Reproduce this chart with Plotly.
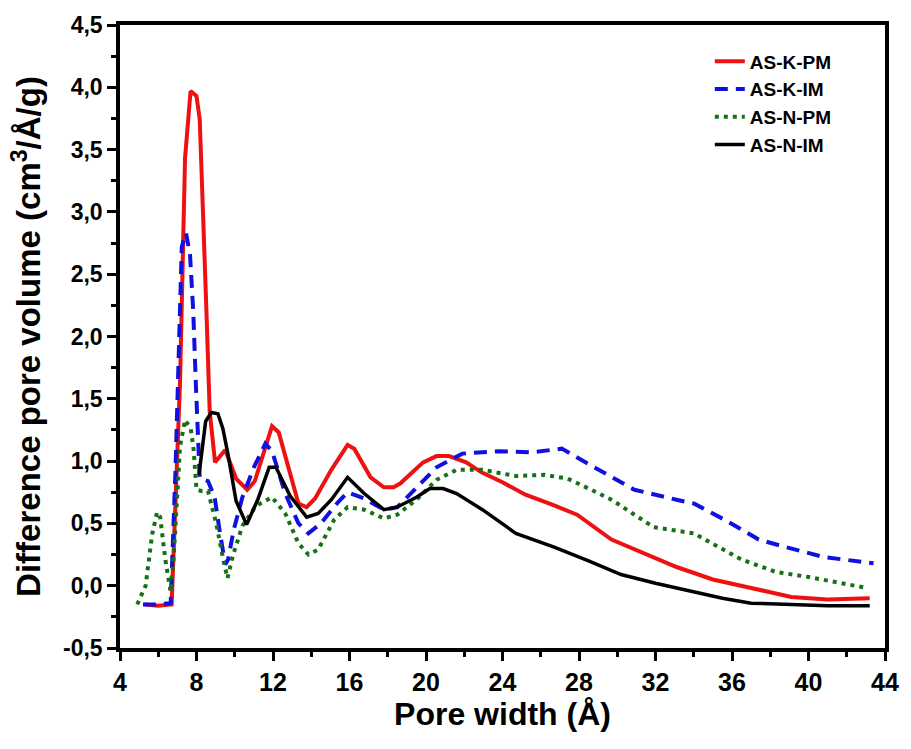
import plotly.graph_objects as go

# ---- data ----
k_pm_x = [5.3, 6.0, 6.7, 7.14, 7.4, 7.69, 8.0, 8.17, 8.52, 8.69, 8.97, 9.5, 10.07, 10.65, 11.05,
          11.95, 12.3, 13.33, 13.76, 14.2, 15.05, 15.9, 16.25, 17.1, 17.8, 18.3, 18.65, 19.85,
          20.55, 21.2, 22.1, 22.9, 24.0, 25.2, 26.6, 27.9, 29.7, 31.5, 33.1, 35.0, 37.4, 39.1,
          41.0, 43.2]
k_pm_y = [-0.15, -0.16, -0.15, 1.64, 3.43, 3.97, 3.93, 3.74, 2.2, 1.4, 0.99, 1.09, 0.86, 0.77, 0.84,
          1.28, 1.23, 0.66, 0.63, 0.70, 0.93, 1.13, 1.10, 0.87, 0.79, 0.79, 0.82, 0.99,
          1.04, 1.04, 0.99, 0.91, 0.83, 0.73, 0.65, 0.57, 0.37, 0.25, 0.15, 0.05, -0.03, -0.09,
          -0.11, -0.10]

k_im_x = [5.2, 6.0, 6.65, 6.9, 7.23, 7.45, 7.66, 7.83, 7.97, 8.09, 8.17, 8.6, 8.95, 9.2, 9.5, 9.65,
          9.95, 10.4, 11.0, 11.6, 11.95, 12.64, 13.33, 13.85, 14.5, 15.4, 15.9, 16.77, 17.8, 18.5,
          19.5, 20.55, 21.9, 23.8, 25.5, 27.1, 28.8, 30.9, 33.1, 34.0, 35.6, 37.4, 38.8, 40.8, 43.4]
k_im_y = [-0.15, -0.15, -0.14, 0.92, 2.72, 2.83, 2.66, 2.2, 1.6, 1.09, 0.86, 0.84, 0.71, 0.45, 0.17, 0.21,
          0.45, 0.71, 0.95, 1.14, 1.08, 0.74, 0.50, 0.42, 0.50, 0.67, 0.75, 0.70, 0.61, 0.63,
          0.79, 0.95, 1.06, 1.08, 1.07, 1.10, 0.95, 0.77, 0.69, 0.66, 0.53, 0.37, 0.31, 0.23, 0.18]

n_pm_x = [4.9, 5.34, 5.68, 5.94, 6.1, 6.37, 6.65, 6.8, 7.14, 7.4, 7.7, 7.85, 8.0, 8.26, 8.6, 9.03,
          9.4, 9.62, 9.9, 10.4, 11.1, 11.95, 12.64, 13.33, 13.85, 14.36, 15.2, 15.9, 16.77, 17.8,
          18.5, 19.5, 20.55, 21.6, 22.95, 24.7, 26.2, 27.4, 28.5, 29.7, 31.9, 34.0, 36.5, 38.3,
          40.0, 43.1]
n_pm_y = [-0.15, 0.0, 0.41, 0.59, 0.55, 0.21, -0.05, 0.21, 1.12, 1.33, 1.26, 1.09, 0.77, 0.76, 0.76, 0.50,
          0.21, 0.06, 0.24, 0.48, 0.64, 0.71, 0.58, 0.34, 0.25, 0.29, 0.53, 0.63, 0.61, 0.54,
          0.57, 0.69, 0.85, 0.93, 0.93, 0.88, 0.89, 0.86, 0.78, 0.69, 0.47, 0.42, 0.21, 0.11,
          0.07, -0.02]

n_im_x = [8.13, 8.48, 8.78, 9.12, 9.38, 9.64, 10.07, 10.62, 11.2, 11.8, 12.15, 12.9, 13.76, 14.36,
          15.05, 15.9, 16.77, 17.8, 18.48, 19.5, 20.2, 20.9, 21.6, 22.95, 24.7, 26.7, 28.5, 30.2,
          32.0, 34.0, 35.5, 37.0, 39.0, 41.0, 43.2]
n_im_y = [0.89, 1.32, 1.39, 1.38, 1.26, 1.06, 0.68, 0.49, 0.69, 0.95, 0.95, 0.72, 0.55, 0.58,
          0.69, 0.87, 0.74, 0.61, 0.63, 0.71, 0.78, 0.78, 0.74, 0.61, 0.42, 0.31, 0.20, 0.09,
          0.02, -0.05, -0.10, -0.14, -0.15, -0.16, -0.16]

series_names = ["AS-K-PM", "AS-K-IM", "AS-N-PM", "AS-N-IM"]
y_tick_vals = [-0.5, 0.0, 0.5, 1.0, 1.5, 2.0, 2.5, 3.0, 3.5, 4.0, 4.5]
y_tick_text = ["-0,5", "0,0", "0,5", "1,0", "1,5", "2,0", "2,5", "3,0", "3,5", "4,0", "4,5"]
x_tick_vals = [4, 8, 12, 16, 20, 24, 28, 32, 36, 40, 44]

FONT = "Arial, Liberation Sans, sans-serif"

fig = go.Figure()
fig.add_trace(go.Scatter(x=k_pm_x, y=k_pm_y, mode="lines", name=series_names[0],
                         line=dict(color="#ee1111", width=4)))
fig.add_trace(go.Scatter(x=k_im_x, y=k_im_y, mode="lines", name=series_names[1],
                         line=dict(color="#1010e0", width=4, dash="13px,8px")))
fig.add_trace(go.Scatter(x=n_pm_x, y=n_pm_y, mode="lines", name=series_names[2],
                         line=dict(color="#167016", width=4, dash="4px,5px")))
fig.add_trace(go.Scatter(x=n_im_x, y=n_im_y, mode="lines", name=series_names[3],
                         line=dict(color="black", width=3.5)))

fig.update_layout(
    width=911, height=749,
    margin=dict(l=120, r=18, t=22, b=101),
    paper_bgcolor="white", plot_bgcolor="white",
    font=dict(family=FONT, color="black"),
    showlegend=True,
    legend=dict(x=0.771, y=0.972, xanchor="left", yanchor="top",
                bgcolor="rgba(0,0,0,0)", borderwidth=0,
                font=dict(family=FONT, size=19, weight="bold"),
                tracegroupgap=0),
)

fig.update_xaxes(
    range=[4, 44], tickmode="array", tickvals=x_tick_vals,
    showline=True, linewidth=3.5, linecolor="black", mirror=True,
    ticks="outside", ticklen=9, tickwidth=3, tickcolor="black",
    minor=dict(tickmode="linear", tick0=4, dtick=2, ticks="outside", ticklen=5,
               tickwidth=3, tickcolor="black"),
    showgrid=False, zeroline=False,
    tickfont=dict(family=FONT, size=25, weight="bold"),
    title=dict(text="Pore width (Å)", font=dict(family=FONT, size=32, weight="bold"),
               standoff=6),
)
fig.update_yaxes(
    range=[-0.5, 4.5], tickmode="array", tickvals=y_tick_vals, ticktext=y_tick_text,
    showline=True, linewidth=3.5, linecolor="black", mirror=True,
    ticks="outside", ticklen=9, tickwidth=3, tickcolor="black",
    minor=dict(tickmode="linear", tick0=-0.5, dtick=0.25, ticks="outside", ticklen=5,
               tickwidth=3, tickcolor="black"),
    showgrid=False, zeroline=False,
    tickfont=dict(family=FONT, size=23, weight="bold"),
    title=dict(text="Difference pore volume (cm<sup>3</sup>/Å/g)",
               font=dict(family=FONT, size=33, weight="bold"), standoff=13),
)

fig.write_html("out.html")
